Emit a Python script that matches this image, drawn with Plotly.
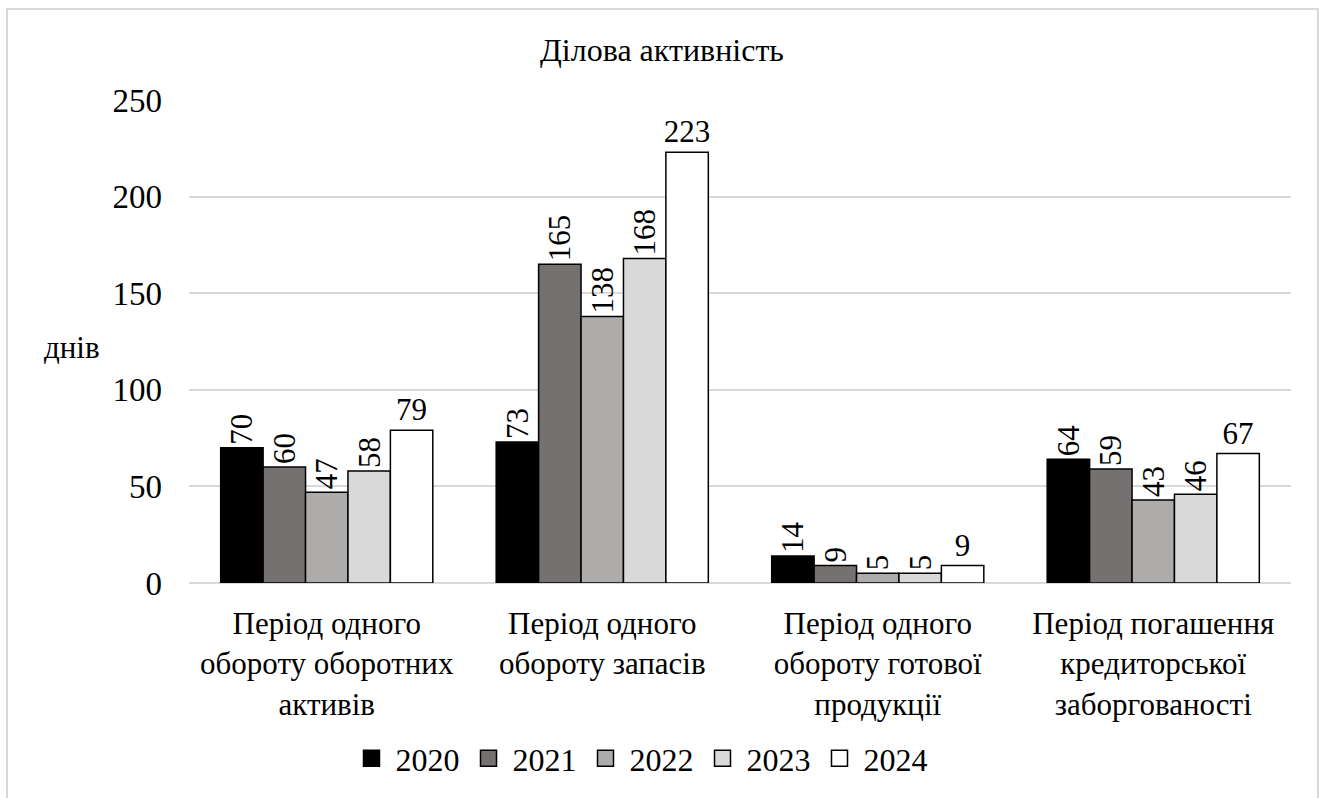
import plotly.graph_objects as go

categories = [
    "Період одного<br>обороту оборотних<br>активів",
    "Період одного<br>обороту запасів",
    "Період одного<br>обороту готової<br>продукції",
    "Період погашення<br>кредиторської<br>заборгованості",
]
years = ["2020", "2021", "2022", "2023", "2024"]
v2020 = [70, 73, 14, 64]
v2021 = [60, 165, 9, 59]
v2022 = [47, 138, 5, 43]
v2023 = [58, 168, 5, 46]
v2024 = [79, 223, 9, 67]
series = [v2020, v2021, v2022, v2023, v2024]
colors = ["#000000", "#767171", "#AEABAB", "#D9D9D9", "#FFFFFF"]
angles = [-90, -90, -90, -90, 0]

FONT = "Times New Roman"

fig = go.Figure()
for name, vals, col, ang in zip(years, series, colors, angles):
    fig.add_trace(go.Bar(
        x=categories, y=vals, name=name, showlegend=False,
        marker=dict(color=col, line=dict(color="#000000", width=1.5)),
        text=[str(v) for v in vals], textposition="outside",
        textangle=ang, constraintext="none", cliponaxis=False,
        textfont=dict(family=FONT, size=31, color="#000000"),
    ))
# legend entries with larger square swatches
for name, col in zip(years, colors):
    fig.add_trace(go.Scatter(
        x=[None], y=[None], mode="markers", name=name,
        marker=dict(symbol="square", size=17, color=col, line=dict(color="#000000", width=1.5)),
    ))

fig.update_layout(
    template="none",
    width=1324, height=798,
    barmode="group", bargap=0.23, bargroupgap=0,
    plot_bgcolor="#FFFFFF", paper_bgcolor="#FFFFFF",
    margin=dict(l=189, r=33, t=100, b=210),
    title=dict(text="Ділова активність", x=0.5, xanchor="center",
               y=1 - 50 / 798, yref="container", yanchor="middle",
               font=dict(family=FONT, size=32, color="#000000")),
    xaxis=dict(showgrid=False, showline=False, ticks="", ticklabelstandoff=19,
               tickfont=dict(family=FONT, size=31, color="#000000")),
    yaxis=dict(range=[0, 250], dtick=50, showgrid=True, gridcolor="#D9D9D9",
               gridwidth=1.5, zeroline=True, zerolinecolor="#D9D9D9", zerolinewidth=1.5,
               showline=False, ticks="", ticklabelstandoff=26,
               tickfont=dict(family=FONT, size=33, color="#000000")),
    legend=dict(orientation="h", x=(640 - 189) / 1102, xanchor="center", y=-0.363, yanchor="middle",
                font=dict(family=FONT, size=32, color="#000000"),
                traceorder="normal", itemwidth=38, itemsizing="trace"),
    showlegend=True,
)

fig.add_annotation(text="днів", xref="paper", yref="paper", x=(72 - 189) / 1102, y=0.488,
                   xanchor="center", showarrow=False,
                   font=dict(family=FONT, size=31, color="#000000"))

fig.add_shape(type="rect", xref="paper", yref="paper",
              x0=(7 - 189) / 1102, x1=(1318 - 189) / 1102,
              y0=(588 - 820) / 488, y1=(588 - 8) / 488,
              line=dict(color="#D9D9D9", width=2), fillcolor="rgba(0,0,0,0)", layer="below")

fig.write_html("out.html")
